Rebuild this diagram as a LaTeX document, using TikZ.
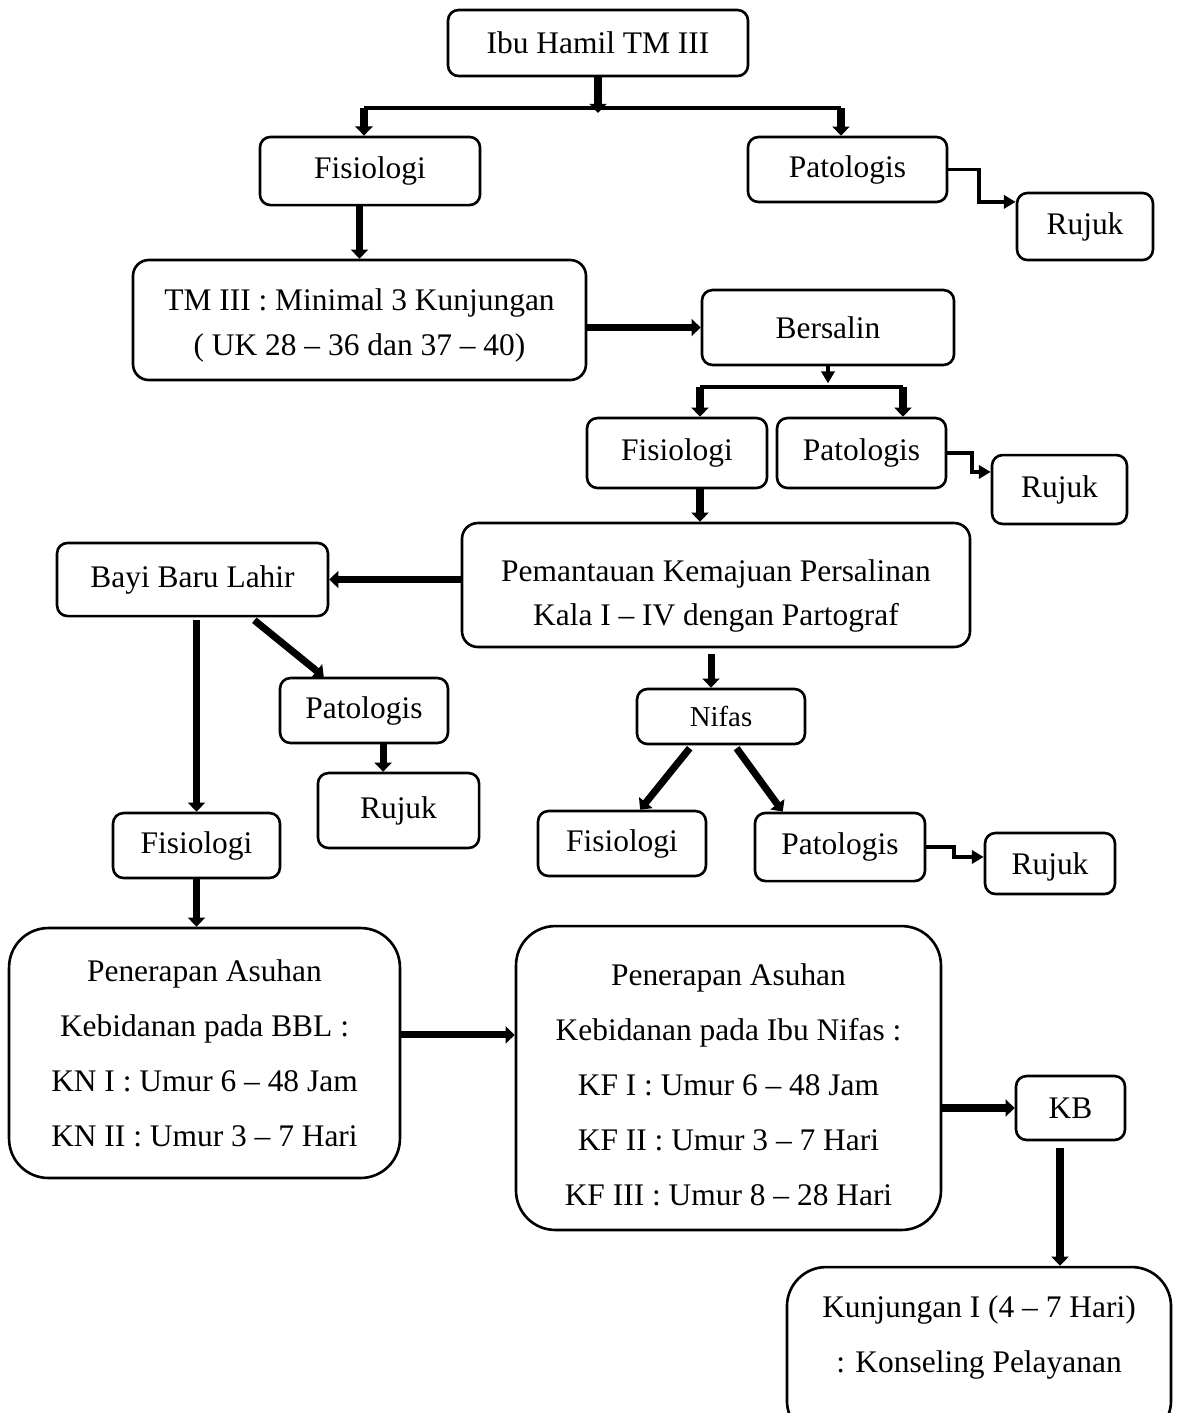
\documentclass[tikz,border=0pt]{standalone}
\usepackage{fontspec}
\setmainfont{Liberation Serif}
\usetikzlibrary{arrows.meta}
\tikzset{
  box/.style={draw=black, line width=1pt, rounded corners=4pt, align=center, inner sep=0pt, font=\fontsize{12}{14.5}\selectfont},
  bigbox/.style={box, rounded corners=15pt, font=\fontsize{12}{21}\selectfont},
  arr/.style={line width=2.7pt, -{Triangle[length=3.5pt,width=6.5pt]}},
  thinarr/.style={line width=1.5pt, -{Triangle[length=4.5pt,width=5pt]}},
  branchline/.style={line width=1.5pt},
}
\begin{document}
\begin{tikzpicture}[x=0.3817pt,y=-0.3817pt]
\useasboundingbox (0,0) rectangle (1177,1413);
% kehamilan
\node[box,minimum width=114.5pt,minimum height=25.2pt] (ibu) at (598,43) {Ibu Hamil TM III};
\node[box,minimum width=84pt,minimum height=26pt] (fis1) at (370,171) {Fisiologi};
\node[box,minimum width=76pt,minimum height=24.8pt] (pat1) at (847.5,169.5) {Patologis};
\node[box,minimum width=51.9pt,minimum height=25.6pt] (ruj1) at (1085,226.5) {Rujuk};
\node[box,rounded corners=6pt,minimum width=172.9pt,minimum height=45.8pt,font=\fontsize{12}{17.2}\selectfont] (tm) at (359.5,320) {\rule{0pt}{12.8pt}TM III : Minimal 3 Kunjungan\\( UK 28 -- 36 dan 37 -- 40)};
% persalinan
\node[box,minimum width=96.2pt,minimum height=28.6pt] (bers) at (828,327.5) {Bersalin};
\node[box,minimum width=68.7pt,minimum height=26.7pt] (fis2) at (677,453) {Fisiologi};
\node[box,minimum width=64.5pt,minimum height=26.7pt] (pat2) at (861.5,453) {Patologis};
\node[box,minimum width=51.5pt,minimum height=26.3pt] (ruj2) at (1059.5,489.5) {Rujuk};
\node[box,rounded corners=6pt,minimum width=193.9pt,minimum height=47.3pt,font=\fontsize{12}{16.8}\selectfont] (pem) at (716,585) {\rule{0pt}{16.6pt}Pemantauan Kemajuan Persalinan\\Kala I -- IV dengan Partograf};
% bayi baru lahir
\node[box,minimum width=103.4pt,minimum height=27.9pt] (bayi) at (192.5,579.5) {Bayi Baru Lahir};
\node[box,minimum width=64.1pt,minimum height=24.8pt] (pat3) at (364,710.5) {Patologis};
\node[box,minimum width=61.5pt,minimum height=28.6pt] (ruj3) at (398.5,810.5) {Rujuk};
\node[box,minimum width=63.7pt,minimum height=24.8pt] (fis3) at (196.5,845.5) {Fisiologi};
% nifas
\node[box,minimum width=64.1pt,minimum height=21pt,font=\fontsize{11}{13}\selectfont] (nifas) at (721,716.5) {Nifas};
\node[box,minimum width=64.1pt,minimum height=24.8pt] (fis4) at (622,843.5) {Fisiologi};
\node[box,minimum width=64.9pt,minimum height=26pt] (pat4) at (840,847) {Patologis};
\node[box,minimum width=49.6pt,minimum height=23.3pt] (ruj4) at (1050,863.5) {\rule{0pt}{11pt}Rujuk};
% asuhan
\node[bigbox,minimum width=149.2pt,minimum height=95.4pt] (asbbl) at (204.5,1053) {Penerapan Asuhan\\Kebidanan pada BBL :\\KN I : Umur 6 -- 48 Jam\\KN II : Umur 3 -- 7 Hari};
\node[bigbox,minimum width=162.2pt,minimum height=116pt] (asnif) at (728.5,1078) {\rule{0pt}{13.6pt}Penerapan Asuhan\\Kebidanan pada Ibu Nifas :\\KF I : Umur 6 -- 48 Jam\\KF II : Umur 3 -- 7 Hari\\KF III : Umur 8 -- 28 Hari};
\node[box,minimum width=41.6pt,minimum height=24.4pt] (kb) at (1070.5,1108) {KB};
\node[bigbox,minimum width=146.6pt,minimum height=66pt] (kunj) at (979,1353.5) {};
\node[align=center,font=\fontsize{12}{21}\selectfont] (kunjtxt) at (979,1337) {Kunjungan I (4 -- 7 Hari)\\: Konseling Pelayanan};

% cabang atas
\coordinate (bar1l) at (364,108);
\coordinate (bar1r) at (841,108);
\draw[arr] (ibu.south) -- (ibu.south |- 0,113);
\draw[branchline] (bar1l) -- (bar1r);
\draw[arr] (bar1l) -- (bar1l |- fis1.north);
\draw[arr] (bar1r) -- (bar1r |- pat1.north);
\draw[thinarr] (pat1.east) -- ++(31,0) |- ([yshift=9.4pt]ruj1.west);
\draw[arr] (tm.north |- fis1.south) -- (tm.north);
\draw[arr] (tm.east |- bers.west) -- (bers.west);

% cabang bersalin
\coordinate (bar2l) at (700,387);
\coordinate (bar2r) at (903,387);
\draw[thinarr] (bers.south) -- ++(0,17);
\draw[branchline] (bar2l) -- (bar2r);
\draw[arr] (bar2l) -- (bar2l |- fis2.north);
\draw[arr] (bar2r) -- (bar2r |- pat2.north);
\draw[thinarr] (pat2.east) -- ++(25,0) |- ([yshift=6.7pt]ruj2.west);
\draw[arr] (bar2l |- fis2.south) -- (bar2l |- pem.north);
\draw[arr] (pem.west |- bayi.east) -- (bayi.east);
\draw[arr] ([xshift=-3.8pt,yshift=-2.3pt]nifas.north |- pem.south) -- ([xshift=-3.8pt]nifas.north);

% bayi
\draw[arr] ([yshift=-1pt]bayi.south -| fis3.north) -- (fis3.north);
\draw[arr] ([xshift=-28.6pt,yshift=-1.1pt]bayi.south east) -- ([xshift=17.2pt]pat3.north west);
\draw[arr] ([xshift=7.3pt]pat3.south) -- ([xshift=7.3pt]pat3.south |- ruj3.north);
\draw[arr] (fis3.south) -- (fis3.south |- asbbl.north);

% nifas
\draw[arr] ([xshift=20.6pt,yshift=-1.1pt]nifas.south west) -- ([xshift=6.9pt]fis4.north);
\draw[arr] ([xshift=38.5pt,yshift=-1.1pt]nifas.south west) -- ([xshift=11.1pt]pat4.north west);
\draw[thinarr] (pat4.east) -- ++(28,0) |- ([yshift=2.5pt]ruj4.west);

% asuhan
\draw[arr] ([yshift=6.9pt]asbbl.east) -- ([yshift=6.9pt]asbbl.east -| asnif.west);
\draw[arr] (asnif.east |- kb.west) -- (kb.west);
\draw[arr] ([xshift=-4pt,yshift=-2.7pt]kb.south) -- ([xshift=-4pt]kb.south |- kunj.north);
\end{tikzpicture}
\end{document}
